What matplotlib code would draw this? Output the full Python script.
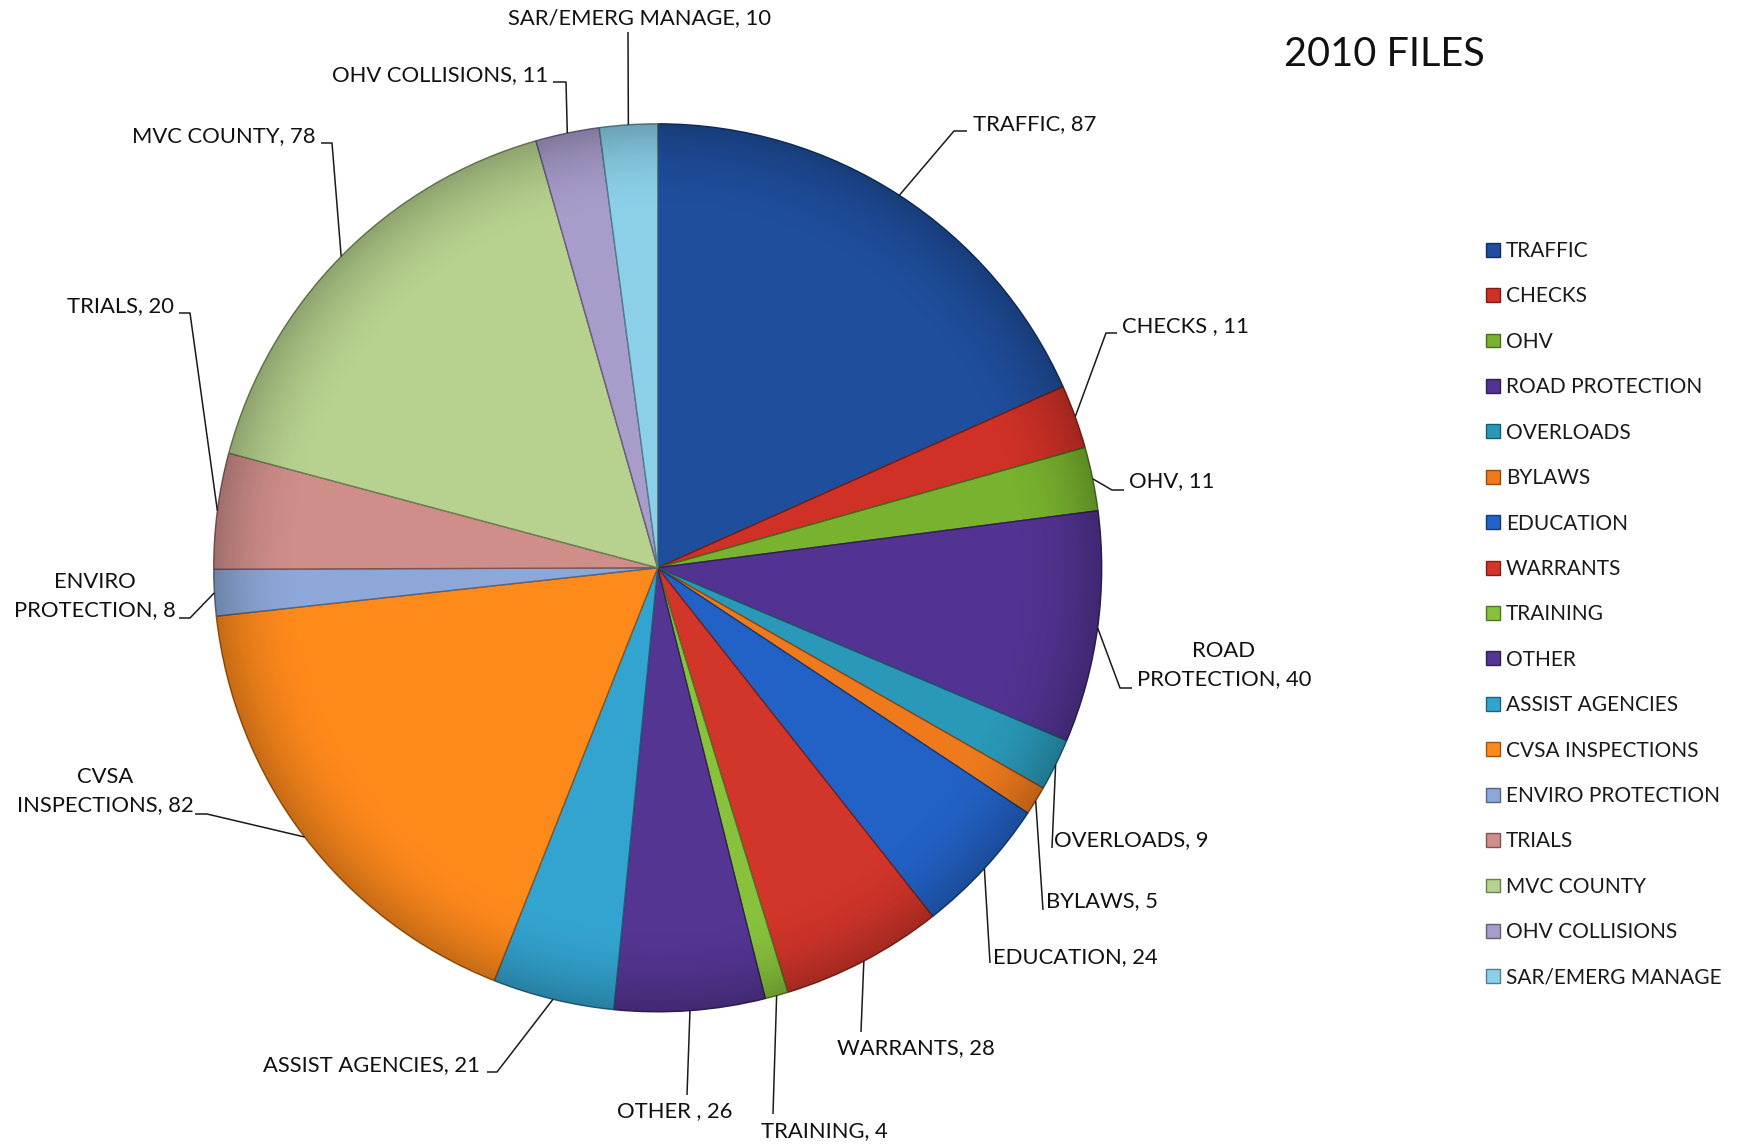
import numpy as np
import matplotlib.pyplot as plt
from matplotlib.colors import to_rgb
from matplotlib.patches import Circle

plt.rcParams["font.family"] = ["Lato", "DejaVu Sans"]

# 2010 file counts by category
categories = ["TRAFFIC", "CHECKS", "OHV", "ROAD PROTECTION", "OVERLOADS", "BYLAWS",
              "EDUCATION", "WARRANTS", "TRAINING", "OTHER", "ASSIST AGENCIES",
              "CVSA INSPECTIONS", "ENVIRO PROTECTION", "TRIALS", "MVC COUNTY",
              "OHV COLLISIONS", "SAR/EMERG MANAGE"]
files = [87, 11, 11, 40, 9, 5, 24, 28, 4, 26, 21, 82, 8, 20, 78, 11, 10]
label_fmt = ["TRAFFIC, {}", "CHECKS , {}", "OHV, {}", "ROAD\nPROTECTION, {}",
             "OVERLOADS, {}", "BYLAWS, {}", "EDUCATION, {}", "WARRANTS, {}",
             "TRAINING, {}", "OTHER , {}", "ASSIST AGENCIES, {}",
             "CVSA\nINSPECTIONS, {}", "ENVIRO\nPROTECTION, {}", "TRIALS, {}",
             "MVC COUNTY, {}", "OHV COLLISIONS, {}", "SAR/EMERG MANAGE, {}"]
colors = ["#1F4E9D", "#CF3127", "#78B22F", "#523391", "#2A98B8", "#EF7A1C",
          "#2262C6", "#D2352A", "#88C23C", "#543592", "#33A4D0", "#FF8A1C",
          "#8DA8D8", "#CF8E8A", "#B7D28E", "#A89CCB", "#8BD0E8"]

# canvas in pixels, y measured from the top when placing labels
W, H = 1739, 1147
cx, cy, R = 657.7, 567.8, 444

# label placement: text anchor (x, y, ha) and leader line elbow / end points
label_pos = [(973, 124, "left"), (1122, 326, "left"), (1129, 481, "left"),
             (1224, 665, "center"), (1054, 840, "left"), (1046, 901, "left"),
             (993, 957, "left"), (837, 1048, "left"), (761, 1131, "left"),
             (617, 1111, "left"), (480, 1065, "right"), (105, 791, "center"),
             (95, 596, "center"), (174, 306, "right"), (316, 136, "right"),
             (548, 75, "right"), (640, 18, "center")]
leader_pts = [[(954, 131), (967, 131)], [(1106, 333), (1117, 333)],
              [(1112, 490), (1124, 490)], [(1120, 688), (1132, 688)],
              [(1052, 848)], [(1043, 910)], [(990, 963)], [(861, 1032)],
              [(773, 1114)], [(687, 1095)], [(497, 1072), (487, 1072)],
              [(207, 814), (195, 814)], [(190, 618), (179, 618)],
              [(190, 313), (179, 313)], [(332, 143), (321, 143)],
              [(566, 82), (553, 82)], [(628, 32)]]


def shade(c, f):
    r, g, b = to_rgb(c)
    return (r * f, g * f, b * f)


fig = plt.figure(figsize=(W / 100, H / 100), dpi=100)
ax = fig.add_axes([0, 0, 1, 1])

wedges, _ = ax.pie(files, colors=colors, startangle=90, counterclock=False,
                   center=(cx, H - cy), radius=R,
                   wedgeprops=dict(linewidth=1.0))
for w, c in zip(wedges, colors):
    w.set_edgecolor(shade(c, 0.6))

# soft darkening toward the rim
n = 400
gx, gy = np.meshgrid(np.linspace(-1, 1, n), np.linspace(-1, 1, n))
rr = np.sqrt(gx ** 2 + gy ** 2)
overlay = np.zeros((n, n, 4))
overlay[..., 3] = np.clip((rr - 0.80) / 0.20, 0, 1) ** 2 * 0.22
img = ax.imshow(overlay, extent=(cx - R, cx + R, H - cy - R, H - cy + R),
                zorder=3, interpolation="bilinear")
img.set_clip_path(Circle((cx, H - cy), R, transform=ax.transData))

total = sum(files)
start = 90.0
for i, v in enumerate(files):
    sweep = 360.0 * v / total
    mid = np.deg2rad(start - sweep / 2)
    start -= sweep
    px, py = cx + R * np.cos(mid), (H - cy) + R * np.sin(mid)
    xs = [px] + [p[0] for p in leader_pts[i]]
    ys = [py] + [H - p[1] for p in leader_pts[i]]
    ax.plot(xs, ys, color="#1a1a1a", lw=1.1, zorder=4, solid_capstyle="butt")
    tx, ty, ha = label_pos[i]
    ax.text(tx, H - ty, label_fmt[i].format(v), ha=ha, va="center",
            fontsize=15.8, color="#111111", linespacing=1.45,
            multialignment="center")

ax.text(1384, H - 55, "2010 FILES", ha="center", va="center",
        fontsize=28.5, color="#111111")

leg = ax.legend(wedges, categories, loc="upper left",
                bbox_to_anchor=(1486, H - 241), bbox_transform=ax.transData,
                frameon=False, fontsize=15, borderpad=0, borderaxespad=0,
                handlelength=0.65, handleheight=0.65, handletextpad=0.3,
                labelspacing=1.22)
for t in leg.get_texts():
    t.set_color("#1a1a1a")

ax.set_xlim(0, W)
ax.set_ylim(0, H)
ax.set_aspect("equal")
ax.axis("off")

fig.savefig("out.png", dpi=100, facecolor="white")
